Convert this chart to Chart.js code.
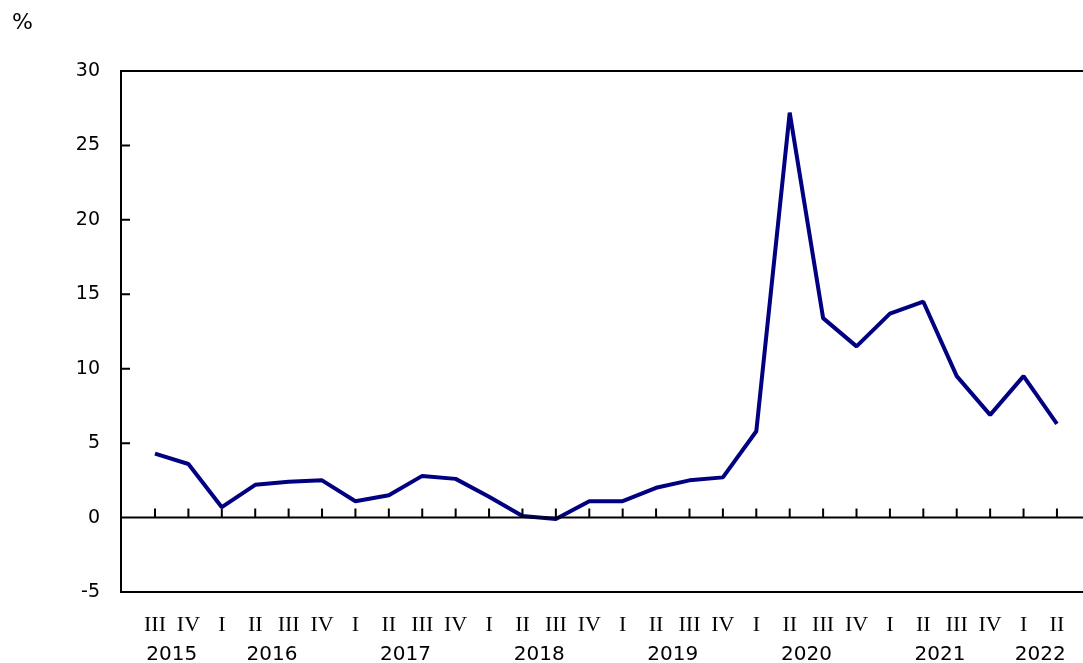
<!DOCTYPE html>
<html>
<head>
<meta charset="utf-8">
<script src="https://cdn.jsdelivr.net/npm/chart.js@4/dist/chart.umd.min.js"></script>
<style>
html,body{margin:0;padding:0;background:#fff;}
#wrap{position:relative;width:1083px;height:663px;}
</style>
</head>
<body>
<div id="wrap"><canvas id="c" width="1083" height="663"></canvas></div>
<script>
const quarters = ['III','IV','I','II','III','IV','I','II','III','IV','I','II','III','IV','I','II','III','IV','I','II','III','IV','I','II','III','IV','I','II'];
const years = ['2015','2015','2016','2016','2016','2016','2017','2017','2017','2017','2018','2018','2018','2018','2019','2019','2019','2019','2020','2020','2020','2020','2021','2021','2021','2021','2022','2022'];
const values = [4.3,3.6,0.7,2.2,2.4,2.5,1.1,1.5,2.8,2.6,1.4,0.1,-0.1,1.1,1.1,2.0,2.5,2.7,5.8,27.2,13.4,11.5,13.7,14.5,9.5,6.9,9.5,6.3];
const yTicks = [-5,0,5,10,15,20,25,30];
const unitLabel = '%';

const points = values.map((v,i)=>({x:i,y:v}));

const framePlugin = {
  id:'frame',
  afterDraw(chart){
    const ctx = chart.ctx, xs = chart.scales.x, ys = chart.scales.y, a = chart.chartArea;
    ctx.save();
    ctx.strokeStyle = '#000';
    ctx.lineWidth = 2;
    ctx.beginPath();
    const top = ys.getPixelForValue(30), bot = ys.getPixelForValue(-5), z = ys.getPixelForValue(0);
    ctx.moveTo(a.left, top); ctx.lineTo(chart.width, top);
    ctx.moveTo(a.left, bot); ctx.lineTo(chart.width, bot);
    ctx.moveTo(a.left, z); ctx.lineTo(chart.width, z);
    ctx.moveTo(a.left, top-1); ctx.lineTo(a.left, bot+1);
    yTicks.forEach(t=>{ const p = ys.getPixelForValue(t); ctx.moveTo(a.left, p); ctx.lineTo(a.left+9, p); });
    quarters.forEach((q,i)=>{ const p = xs.getPixelForValue(i); ctx.moveTo(p, z); ctx.lineTo(p, z-9); });
    ctx.stroke();
    ctx.fillStyle = '#000';
    ctx.textAlign = 'center';
    ctx.textBaseline = 'middle';
    ctx.font = '22px "Liberation Serif"';
    quarters.forEach((q,i)=>{ ctx.fillText(q, xs.getPixelForValue(i), 625); });
    ctx.font = '20px "DejaVu Sans"';
    const seen = {};
    years.forEach((y,i)=>{ (seen[y] = seen[y] || []).push(i); });
    Object.keys(seen).forEach(y=>{
      const idx = seen[y]; const c = (idx[0]+idx[idx.length-1])/2;
      ctx.fillText(y, xs.getPixelForValue(c), 655);
    });
    ctx.font = '22px "DejaVu Sans"';
    ctx.textAlign = 'left';
    ctx.fillText(unitLabel, 12, 23);
    ctx.restore();
  }
};

new Chart(document.getElementById('c'), {
  type:'line',
  data:{datasets:[{data:points, borderColor:'#000080', borderWidth:4, borderJoinStyle:'bevel', pointRadius:0, tension:0, fill:false}]},
  options:{
    responsive:false, animation:false,
    layout:{padding:{top:71, bottom:71, right:0, left:0}},
    plugins:{legend:{display:false}, tooltip:{enabled:false}},
    scales:{
      x:{type:'linear', display:false, min:-1.018, max:27.78},
      y:{min:-5, max:30, afterFit(s){s.width=121;},
         afterBuildTicks(s){ s.ticks = yTicks.map(v=>({value:v})); },
         grid:{display:false, drawTicks:false}, border:{display:false},
         ticks:{color:'#000', font:{family:'DejaVu Sans', size:19}, padding:21}}
    }
  },
  plugins:[framePlugin]
});
</script>
</body>
</html>
